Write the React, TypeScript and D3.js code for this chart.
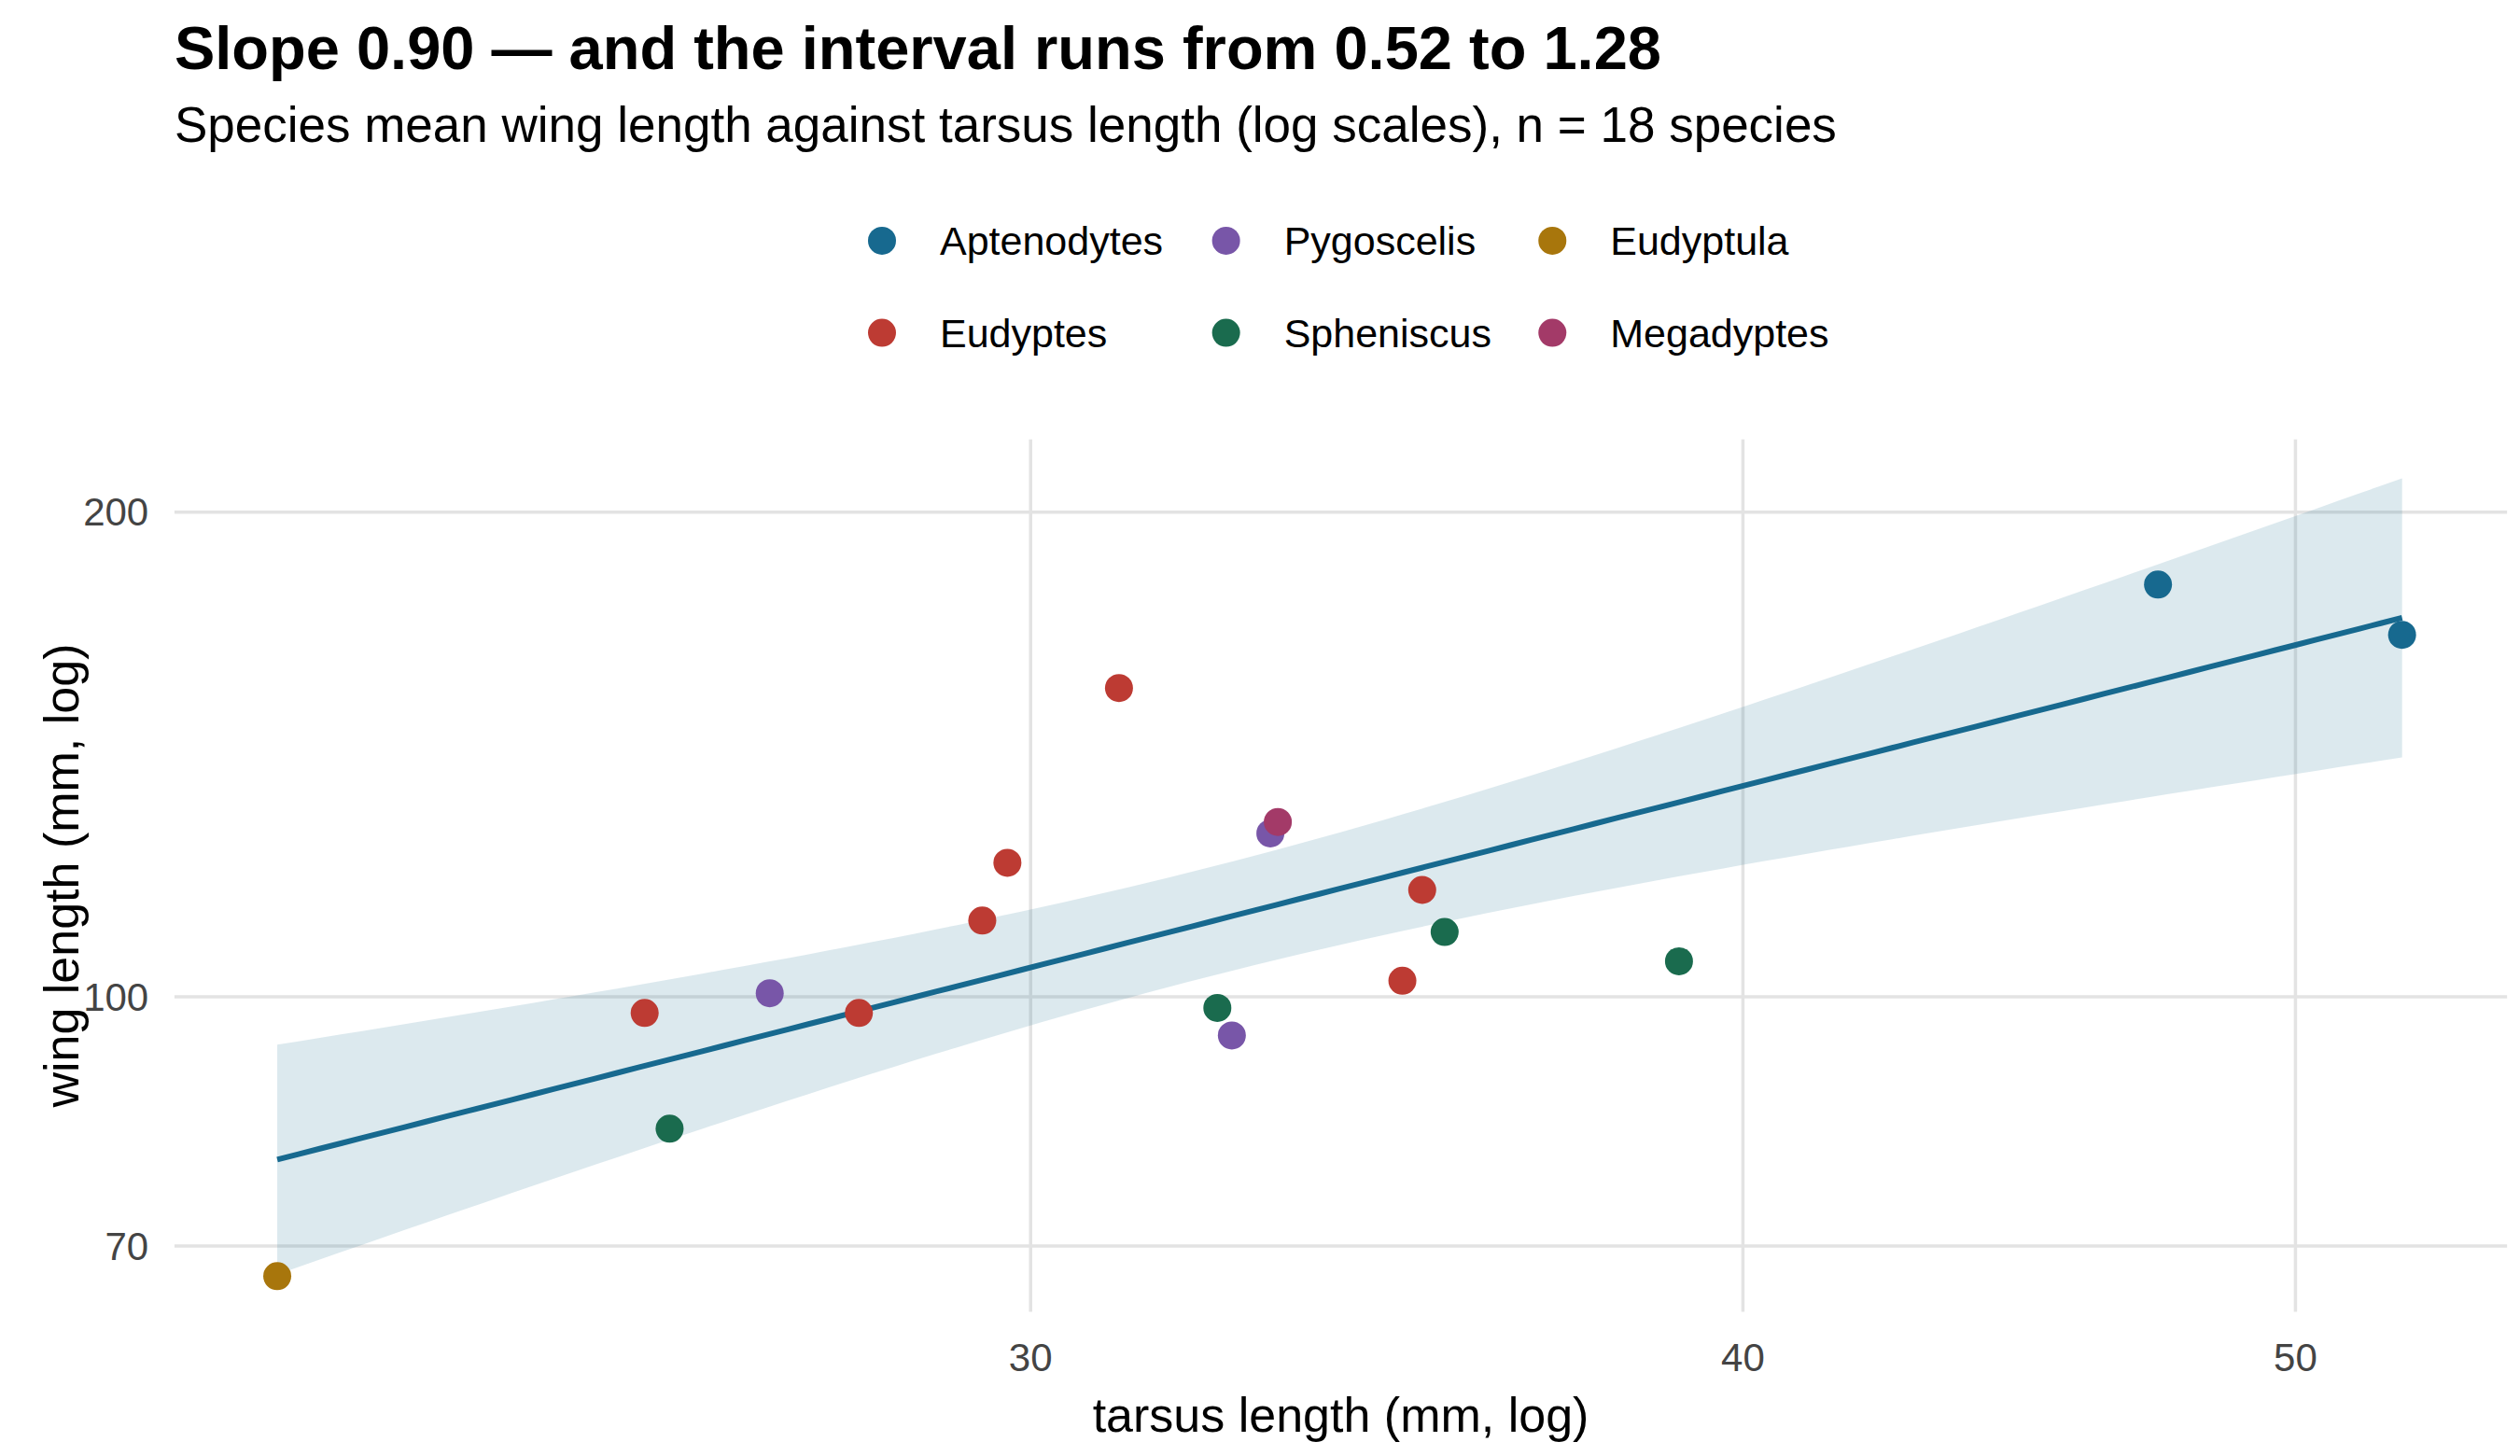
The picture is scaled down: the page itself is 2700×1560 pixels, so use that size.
import React from "react";
import * as d3 from "d3";

const species = ["Aptenodytes","Pygoscelis","Eudyptula","Eudyptes","Spheniscus","Megadyptes"];
const colors = ["#17698f","#7856a8","#a8760c","#bd3b33","#1a6b4e","#a33a68"];
const tarsus = [47.3,52.2, 25.67,27.99,29.42,29.72,31.09,34.86,35.14, 27.0,32.54,33.05, 25.93,32.35,35.46,38.98, 33.15, 22.13];
const wing =   [180.3,167.8, 97.7,97.7,111.5,121.1,155.5,102.3,116.5, 100.5,94.6,126.3, 82.8,98.4,109.7,105.2, 128.4, 67.05];
const genus = ["Aptenodytes","Aptenodytes","Eudyptes","Eudyptes","Eudyptes","Eudyptes","Eudyptes","Eudyptes","Eudyptes","Pygoscelis","Pygoscelis","Pygoscelis","Spheniscus","Spheniscus","Spheniscus","Spheniscus","Megadyptes","Eudyptula"];
const xTicks = [30,40,50];
const yTicks = [70,100,200];
const legendOrder = ["Aptenodytes","Pygoscelis","Eudyptula","Eudyptes","Spheniscus","Megadyptes"];

const k = 2700/1560;
const W = 2700, H = 1560;
const left = 108*k, right = 1552*k, top = 272*k, bottom = 812*k;
const font = "Liberation Sans, Arial, sans-serif";

export default function App() {
  const x = d3.scaleLog().domain([30,50]).range([638*k,1421*k]);
  const y = d3.scaleLog().domain([100,200]).range([617*k,317*k]);
  const lx = tarsus.map(Math.log10), ly = wing.map(Math.log10);
  const n = lx.length;
  const mx = d3.mean(lx)!, my = d3.mean(ly)!;
  const sxx = d3.sum(lx, v => (v-mx)**2);
  const sxy = d3.sum(lx.map((v,i)=>(v-mx)*(ly[i]-my)));
  const b = sxy/sxx, a = my - b*mx;
  const s = Math.sqrt(d3.sum(lx.map((v,i)=>(ly[i]-a-b*v)**2))/(n-2));
  const t = 2.12;
  const x0 = d3.min(tarsus)!, x1 = d3.max(tarsus)!;
  const grid = d3.range(0,101).map(i => Math.log10(x0) + (Math.log10(x1)-Math.log10(x0))*i/100);
  const band = grid.map(g => {
    const f = a + b*g;
    const se = s*Math.sqrt(1/n + (g-mx)**2/sxx);
    return { g, f, lo: f - t*se, hi: f + t*se };
  });
  const area = d3.area<any>().x(d=>x(10**d.g)).y0(d=>y(10**d.lo)).y1(d=>y(10**d.hi));
  const line = d3.line<any>().x(d=>x(10**d.g)).y(d=>y(10**d.f));
  const colorOf = (g: string) => colors[species.indexOf(g)];
  const legX = [546,759,961].map(v=>v*k), legY = [149,206].map(v=>v*k);
  return (
    <svg width={W} height={H} style={{position:"absolute",left:0,top:0,background:"#fff"}} fontFamily={font}>
      <rect width={W} height={H} fill="#fff"/>
      <text x={108*k} y={43*k} fontSize={65} fontWeight="bold">Slope 0.90 — and the interval runs from 0.52 to 1.28</text>
      <text x={108*k} y={88*k} fontSize={53}>Species mean wing length against tarsus length (log scales), n = 18 species</text>
      {legendOrder.map((g,i)=>{
        const cx = legX[i%3], cy = legY[Math.floor(i/3)];
        return <g key={g}>
          <circle cx={cx} cy={cy} r={15} fill={colorOf(g)}/>
          <text x={cx+62} y={cy} dy="0.35em" fontSize={43}>{g}</text>
        </g>;
      })}
      {xTicks.map(v=><line key={v} x1={x(v)} x2={x(v)} y1={top} y2={bottom} stroke="#e3e3e3" strokeWidth={3.5}/>)}
      {yTicks.map(v=><line key={v} x1={left} x2={right} y1={y(v)} y2={y(v)} stroke="#e3e3e3" strokeWidth={3.5}/>)}
      <path d={area(band)!} fill="#17698f" fillOpacity={0.15}/>
      <path d={line(band)!} fill="none" stroke="#17698f" strokeWidth={6}/>
      {tarsus.map((v,i)=><circle key={i} cx={x(v)} cy={y(wing[i])} r={15} fill={colorOf(genus[i])}/>)}
      {xTicks.map(v=><text key={v} x={x(v)} y={840*k} dy="0.35em" textAnchor="middle" fontSize={42} fill="#444">{v}</text>)}
      {yTicks.map(v=><text key={v} x={92*k} y={y(v)} dy="0.35em" textAnchor="end" fontSize={42} fill="#444">{v}</text>)}
      <text x={(left+right)/2} y={876*k} dy="0.35em" textAnchor="middle" fontSize={52}>tarsus length (mm, log)</text>
      <text transform={`translate(${38*k},${(top+bottom)/2}) rotate(-90)`} dy="0.35em" textAnchor="middle" fontSize={52}>wing length (mm, log)</text>
    </svg>
  );
}
